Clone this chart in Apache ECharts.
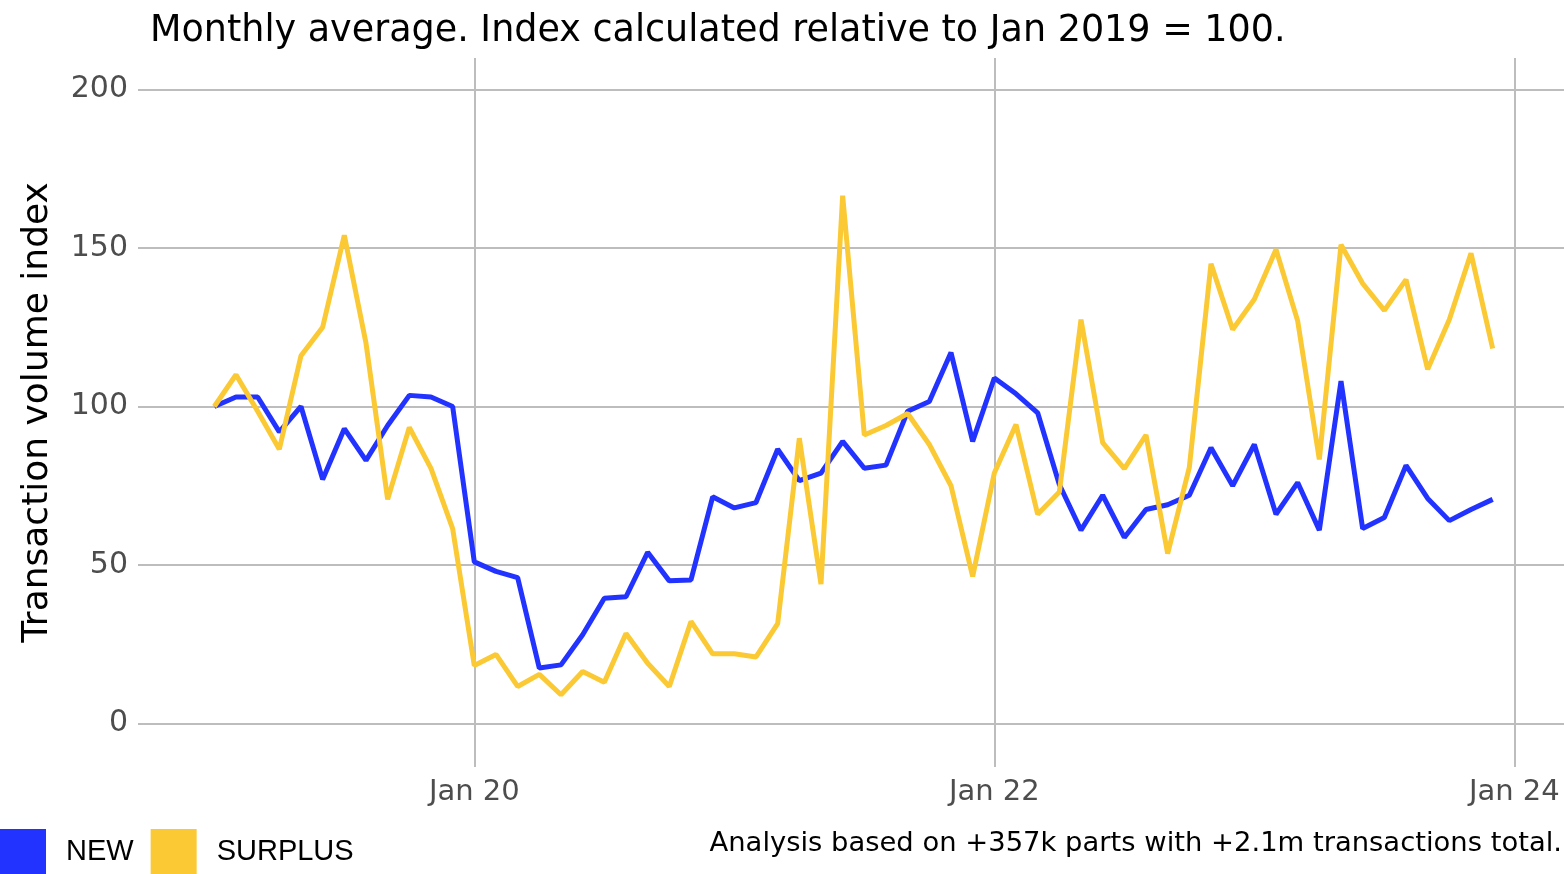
<!DOCTYPE html>
<html lang="en" style="height: 100%">
<head>
  <meta charset="utf-8">
</head>
<body style="height: 100%; margin: 0" bgcolor="#ffffff">
  <div id="container" style="width: 1564px; height: 874px"></div>
  <script type="text/javascript" src="https://fastly.jsdelivr.net/npm/echarts@6.0.0/dist/echarts.min.js"></script>
  <script type="text/javascript">
    // months (first of month)
    var months = [
      '2019-01','2019-02','2019-03','2019-04','2019-05','2019-06','2019-07','2019-08','2019-09','2019-10','2019-11','2019-12',
      '2020-01','2020-02','2020-03','2020-04','2020-05','2020-06','2020-07','2020-08','2020-09','2020-10','2020-11','2020-12',
      '2021-01','2021-02','2021-03','2021-04','2021-05','2021-06','2021-07','2021-08','2021-09','2021-10','2021-11','2021-12',
      '2022-01','2022-02','2022-03','2022-04','2022-05','2022-06','2022-07','2022-08','2022-09','2022-10','2022-11','2022-12',
      '2023-01','2023-02','2023-03','2023-04','2023-05','2023-06','2023-07','2023-08','2023-09','2023-10','2023-11','2023-12'
    ];

    var newValues = [
      100, 103, 103, 92, 100, 77, 93, 83, 94, 103.5, 103, 100,
      51, 48, 46, 17.5, 18.5, 28, 39.5, 40, 54, 45, 45.3, 71.5,
      68, 69.7, 86.5, 76.6, 79, 89, 80.5, 81.5, 98.5, 101.6, 117, 89,
      109, 104, 98, 75.4, 61, 72, 58.7, 67.5, 69, 72, 87, 75,
      88, 66, 76, 61, 108, 61.5, 65, 81.4, 71, 64, 67.5, 70.7
    ];

    var surplusValues = [
      100, 110, 98.5, 86.5, 116, 125, 154, 120, 70.7, 93.4, 80.5, 61.5,
      18.3, 21.8, 11.7, 15.5, 9.1, 16.4, 13, 28.4, 19, 11.7, 32.2, 22,
      22, 21, 31.5, 90, 44, 166.5, 91, 94, 97.8, 88, 75, 46.4,
      79, 94.3, 66, 73, 127.4, 88.6, 80.4, 91, 53.6, 80.8, 145, 124.3,
      133.8, 149.5, 127, 83.3, 151, 138.8, 130.3, 140, 111.7, 127.4, 148.3, 118.3
    ];

    var yTicks = [0, 50, 100, 150, 200];
    var xTicks = [2020, 2022, 2024];   // Jan of each year

    // 'YYYY-MM' -> fractional year
    function toYear(s) {
      var p = s.split('-');
      return +p[0] + (+p[1] - 1) / 12;
    }

    function pairs(values) {
      var res = [];
      for (var i = 0; i < months.length; i++) {
        res.push([toYear(months[i]), values[i]]);
      }
      return res;
    }

    var gridColor = '#bdbdbd';
    var labelColor = '#4d4d4d';

    var myChart = echarts.init(document.getElementById('container'));

    var option = {
      animation: false,
      backgroundColor: '#ffffff',
      title: [
        {
          text: 'Monthly average. Index calculated relative to Jan 2019 = 100.',
          left: 150,
          top: 13,
          padding: 0,
          textStyle: {
            fontFamily: 'DejaVu Sans',
            fontWeight: 'normal',
            fontSize: 36.5,
            color: '#000000'
          }
        },
        {
          text: 'Analysis based on +357k parts with +2.1m transactions total.',
          right: 2,
          top: 830,
          padding: 0,
          textStyle: {
            fontFamily: 'DejaVu Sans',
            fontWeight: 'normal',
            fontSize: 27.4,
            color: '#000000'
          }
        }
      ],
      legend: {
        left: 0,
        top: 829,
        padding: 0,
        icon: 'rect',
        itemWidth: 46,
        itemHeight: 46,
        itemGap: 17,
        textStyle: {
          fontFamily: 'Liberation Sans',
          fontSize: 29,
          color: '#000000',
          padding: [8, 0, 0, 15]
        },
        data: ['NEW', 'SURPLUS']
      },
      grid: {
        left: 138,
        right: 0,
        top: 58,
        bottom: 107,
        containLabel: false
      },
      xAxis: {
        type: 'value',
        min: 2018.7065,
        max: 2024.191,
        axisLine: { show: false },
        axisTick: { show: false, customValues: xTicks },
        splitLine: { show: true, lineStyle: { color: gridColor, width: 2 } },
        axisLabel: {
          customValues: xTicks,
          margin: 11,
          fontFamily: 'DejaVu Sans',
          fontSize: 29,
          color: labelColor,
          formatter: function (value) {
            return 'Jan ' + String(Math.round(value)).slice(2);
          }
        }
      },
      yAxis: {
        type: 'value',
        min: -13.7,
        max: 209.9,
        name: 'Transaction volume index',
        nameLocation: 'middle',
        nameGap: 82,
        nameTextStyle: {
          fontFamily: 'DejaVu Sans',
          fontSize: 36,
          color: '#000000'
        },
        axisLine: { show: false },
        axisTick: { show: false, customValues: yTicks },
        splitLine: { show: true, lineStyle: { color: gridColor, width: 2 } },
        axisLabel: {
          customValues: yTicks,
          margin: 10,
          padding: [6, 0, 0, 0],
          fontFamily: 'DejaVu Sans',
          fontSize: 30,
          color: labelColor
        }
      },
      series: [
        {
          name: 'NEW',
          type: 'line',
          showSymbol: false,
          symbol: 'none',
          color: '#2233FF',
          lineStyle: { width: 5, color: '#2233FF' },
          data: pairs(newValues)
        },
        {
          name: 'SURPLUS',
          type: 'line',
          showSymbol: false,
          symbol: 'none',
          color: '#FBC933',
          lineStyle: { width: 5, color: '#FBC933' },
          data: pairs(surplusValues)
        }
      ]
    };

    myChart.setOption(option);
  </script>
</body>
</html>
